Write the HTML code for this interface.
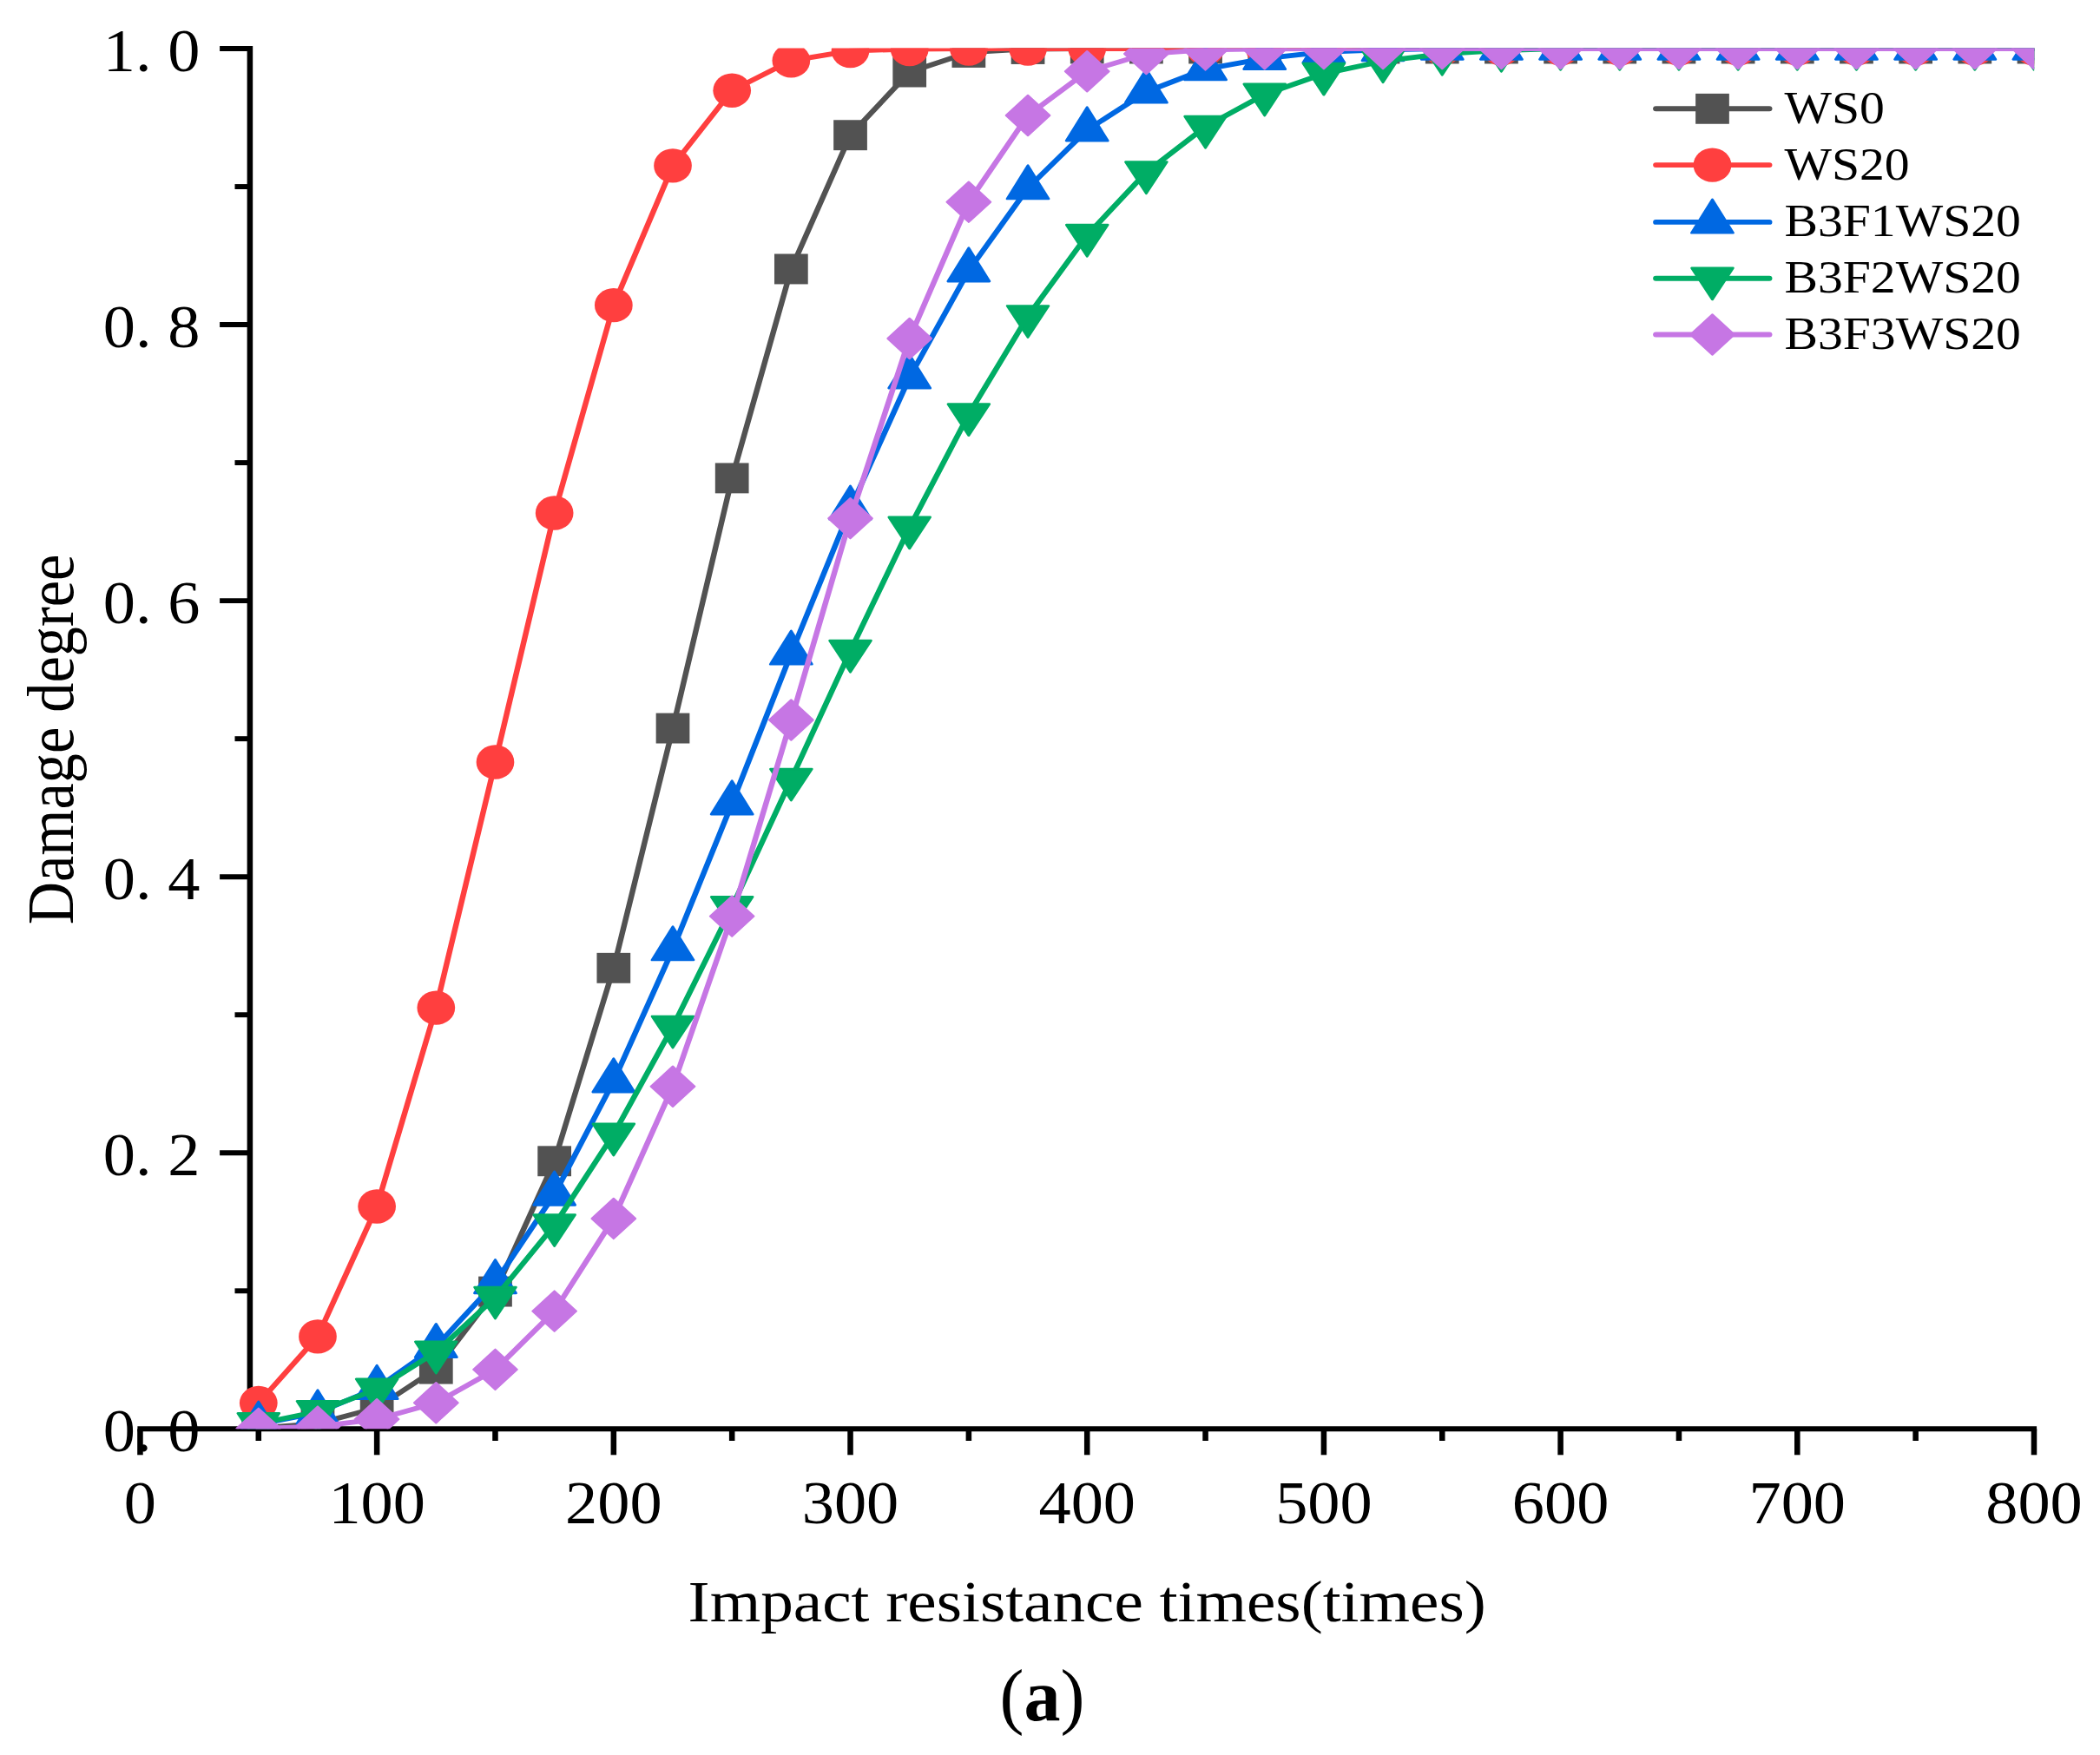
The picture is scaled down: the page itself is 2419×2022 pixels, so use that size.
<!DOCTYPE html>
<html lang="en"><head><meta charset="utf-8"><title>Damage degree vs impact resistance times</title>
<style>html,body{margin:0;padding:0;background:#fff}svg{display:block}text{font-family:"Liberation Serif","Times New Roman",serif;fill:#000}</style></head><body>
<svg width="2419" height="2022" viewBox="0 0 2419 2022">
<rect width="2419" height="2022" fill="#fff"/>
<g transform="scale(1.10963,1)">
<g stroke="#000" stroke-width="5.9" fill="none">
<line x1="259.46" y1="53.05" x2="259.46" y2="1646.3"/>
<line x1="142.75" y1="1646.3" x2="2114.3" y2="1646.3"/>
<line x1="243.77" y1="1487.27" x2="259.46" y2="1487.27"/>
<line x1="228.09" y1="1328.24" x2="259.46" y2="1328.24"/>
<line x1="243.77" y1="1169.21" x2="259.46" y2="1169.21"/>
<line x1="228.09" y1="1010.18" x2="259.46" y2="1010.18"/>
<line x1="243.77" y1="851.15" x2="259.46" y2="851.15"/>
<line x1="228.09" y1="692.12" x2="259.46" y2="692.12"/>
<line x1="243.77" y1="533.09" x2="259.46" y2="533.09"/>
<line x1="228.09" y1="374.06" x2="259.46" y2="374.06"/>
<line x1="243.77" y1="215.03" x2="259.46" y2="215.03"/>
<line x1="228.09" y1="56" x2="259.46" y2="56"/>
<line x1="145.5" y1="1646.3" x2="145.5" y2="1676.3"/>
<line x1="268.37" y1="1646.3" x2="268.37" y2="1660"/>
<line x1="391.25" y1="1646.3" x2="391.25" y2="1676.3"/>
<line x1="514.12" y1="1646.3" x2="514.12" y2="1660"/>
<line x1="637" y1="1646.3" x2="637" y2="1676.3"/>
<line x1="759.88" y1="1646.3" x2="759.88" y2="1660"/>
<line x1="882.75" y1="1646.3" x2="882.75" y2="1676.3"/>
<line x1="1005.63" y1="1646.3" x2="1005.63" y2="1660"/>
<line x1="1128.5" y1="1646.3" x2="1128.5" y2="1676.3"/>
<line x1="1251.38" y1="1646.3" x2="1251.38" y2="1660"/>
<line x1="1374.25" y1="1646.3" x2="1374.25" y2="1676.3"/>
<line x1="1497.13" y1="1646.3" x2="1497.13" y2="1660"/>
<line x1="1620" y1="1646.3" x2="1620" y2="1676.3"/>
<line x1="1742.88" y1="1646.3" x2="1742.88" y2="1660"/>
<line x1="1865.75" y1="1646.3" x2="1865.75" y2="1676.3"/>
<line x1="1988.63" y1="1646.3" x2="1988.63" y2="1660"/>
<line x1="2111.5" y1="1646.3" x2="2111.5" y2="1676.3"/>
</g>
<defs><clipPath id="pc"><rect x="135.18" y="55.5" width="1976.51" height="1590.8"/></clipPath></defs>
<g clip-path="url(#pc)">
<polyline points="268.37,1645.35 329.81,1640.1 391.25,1621.97 452.69,1577.12 514.12,1488.07 575.56,1337.78 637,1115.3 698.44,839.06 759.88,550.9 821.31,309.97 882.75,155.71 944.19,83.04 1005.63,60.45 1067.06,56.48 1128.5,56 1189.94,56 1251.38,56 1312.81,56 1374.25,56 1435.69,56 1497.13,56 1558.56,56 1620,56 1681.44,56 1742.88,56 1804.32,56 1865.75,56 1927.19,56 1988.63,56 2050.07,56 2111.5,56" fill="none" stroke="#525252" stroke-width="5.8" stroke-linejoin="round" stroke-linecap="round"/>
<rect x="250.92" y="1627.9" width="34.9" height="34.9" fill="#525252"/>
<rect x="312.36" y="1622.65" width="34.9" height="34.9" fill="#525252"/>
<rect x="373.8" y="1604.52" width="34.9" height="34.9" fill="#525252"/>
<rect x="435.24" y="1559.67" width="34.9" height="34.9" fill="#525252"/>
<rect x="496.67" y="1470.62" width="34.9" height="34.9" fill="#525252"/>
<rect x="558.11" y="1320.33" width="34.9" height="34.9" fill="#525252"/>
<rect x="619.55" y="1097.85" width="34.9" height="34.9" fill="#525252"/>
<rect x="680.99" y="821.61" width="34.9" height="34.9" fill="#525252"/>
<rect x="742.43" y="533.45" width="34.9" height="34.9" fill="#525252"/>
<rect x="803.86" y="292.52" width="34.9" height="34.9" fill="#525252"/>
<rect x="865.3" y="138.26" width="34.9" height="34.9" fill="#525252"/>
<rect x="926.74" y="65.59" width="34.9" height="34.9" fill="#525252"/>
<rect x="988.18" y="43" width="34.9" height="34.9" fill="#525252"/>
<rect x="1049.61" y="39.03" width="34.9" height="34.9" fill="#525252"/>
<rect x="1111.05" y="38.55" width="34.9" height="34.9" fill="#525252"/>
<rect x="1172.49" y="38.55" width="34.9" height="34.9" fill="#525252"/>
<rect x="1233.93" y="38.55" width="34.9" height="34.9" fill="#525252"/>
<rect x="1295.36" y="38.55" width="34.9" height="34.9" fill="#525252"/>
<rect x="1356.8" y="38.55" width="34.9" height="34.9" fill="#525252"/>
<rect x="1418.24" y="38.55" width="34.9" height="34.9" fill="#525252"/>
<rect x="1479.68" y="38.55" width="34.9" height="34.9" fill="#525252"/>
<rect x="1541.11" y="38.55" width="34.9" height="34.9" fill="#525252"/>
<rect x="1602.55" y="38.55" width="34.9" height="34.9" fill="#525252"/>
<rect x="1663.99" y="38.55" width="34.9" height="34.9" fill="#525252"/>
<rect x="1725.43" y="38.55" width="34.9" height="34.9" fill="#525252"/>
<rect x="1786.87" y="38.55" width="34.9" height="34.9" fill="#525252"/>
<rect x="1848.3" y="38.55" width="34.9" height="34.9" fill="#525252"/>
<rect x="1909.74" y="38.55" width="34.9" height="34.9" fill="#525252"/>
<rect x="1971.18" y="38.55" width="34.9" height="34.9" fill="#525252"/>
<rect x="2032.62" y="38.55" width="34.9" height="34.9" fill="#525252"/>
<rect x="2094.05" y="38.55" width="34.9" height="34.9" fill="#525252"/>
<polyline points="268.37,1616.56 329.81,1539.91 391.25,1389.94 452.69,1161.1 514.12,878.03 575.56,590.98 637,351.64 698.44,190.86 759.88,104.19 821.31,69.84 882.75,58.54 944.19,56.64 1005.63,56 1067.06,56 1128.5,56 1189.94,56 1251.38,56 1312.81,56 1374.25,56 1435.69,56 1497.13,56 1558.56,56 1620,56 1681.44,56 1742.88,56 1804.32,56 1865.75,56 1927.19,56 1988.63,56 2050.07,56 2111.5,56" fill="none" stroke="#ff3f3f" stroke-width="5.8" stroke-linejoin="round" stroke-linecap="round"/>
<circle cx="268.37" cy="1616.56" r="19.7" fill="#ff3f3f"/>
<circle cx="329.81" cy="1539.91" r="19.7" fill="#ff3f3f"/>
<circle cx="391.25" cy="1389.94" r="19.7" fill="#ff3f3f"/>
<circle cx="452.69" cy="1161.1" r="19.7" fill="#ff3f3f"/>
<circle cx="514.12" cy="878.03" r="19.7" fill="#ff3f3f"/>
<circle cx="575.56" cy="590.98" r="19.7" fill="#ff3f3f"/>
<circle cx="637" cy="351.64" r="19.7" fill="#ff3f3f"/>
<circle cx="698.44" cy="190.86" r="19.7" fill="#ff3f3f"/>
<circle cx="759.88" cy="104.19" r="19.7" fill="#ff3f3f"/>
<circle cx="821.31" cy="69.84" r="19.7" fill="#ff3f3f"/>
<circle cx="882.75" cy="58.54" r="19.7" fill="#ff3f3f"/>
<circle cx="944.19" cy="56.64" r="19.7" fill="#ff3f3f"/>
<circle cx="1005.63" cy="56" r="19.7" fill="#ff3f3f"/>
<circle cx="1067.06" cy="56" r="19.7" fill="#ff3f3f"/>
<circle cx="1128.5" cy="56" r="19.7" fill="#ff3f3f"/>
<circle cx="1189.94" cy="56" r="19.7" fill="#ff3f3f"/>
<circle cx="1251.38" cy="56" r="19.7" fill="#ff3f3f"/>
<circle cx="1312.81" cy="56" r="19.7" fill="#ff3f3f"/>
<circle cx="1374.25" cy="56" r="19.7" fill="#ff3f3f"/>
<circle cx="1435.69" cy="56" r="19.7" fill="#ff3f3f"/>
<circle cx="1497.13" cy="56" r="19.7" fill="#ff3f3f"/>
<circle cx="1558.56" cy="56" r="19.7" fill="#ff3f3f"/>
<circle cx="1620" cy="56" r="19.7" fill="#ff3f3f"/>
<circle cx="1681.44" cy="56" r="19.7" fill="#ff3f3f"/>
<circle cx="1742.88" cy="56" r="19.7" fill="#ff3f3f"/>
<circle cx="1804.32" cy="56" r="19.7" fill="#ff3f3f"/>
<circle cx="1865.75" cy="56" r="19.7" fill="#ff3f3f"/>
<circle cx="1927.19" cy="56" r="19.7" fill="#ff3f3f"/>
<circle cx="1988.63" cy="56" r="19.7" fill="#ff3f3f"/>
<circle cx="2050.07" cy="56" r="19.7" fill="#ff3f3f"/>
<circle cx="2111.5" cy="56" r="19.7" fill="#ff3f3f"/>
<polyline points="268.37,1640.89 329.81,1627.69 391.25,1599.23 452.69,1551.36 514.12,1477.57 575.56,1375.95 637,1245.7 698.44,1093.67 759.88,925.74 821.31,752.87 882.75,585.89 944.19,434.81 1005.63,311.72 1067.06,216.62 1128.5,149.83 1189.94,105.78 1251.38,79.54 1312.81,67.29 1374.25,59.82 1435.69,57.43 1497.13,56 1558.56,56 1620,56 1681.44,56 1742.88,56 1804.32,56 1865.75,56 1927.19,56 1988.63,56 2050.07,56 2111.5,56" fill="none" stroke="#0068e2" stroke-width="5.8" stroke-linejoin="round" stroke-linecap="round"/>
<polygon points="268.37,1614.79 246.76,1653.29 289.98,1653.29" fill="#0068e2" stroke="#0068e2" stroke-width="2.6" stroke-linejoin="round"/>
<polygon points="329.81,1601.59 308.2,1640.09 351.42,1640.09" fill="#0068e2" stroke="#0068e2" stroke-width="2.6" stroke-linejoin="round"/>
<polygon points="391.25,1573.13 369.64,1611.63 412.86,1611.63" fill="#0068e2" stroke="#0068e2" stroke-width="2.6" stroke-linejoin="round"/>
<polygon points="452.69,1525.26 431.08,1563.76 474.3,1563.76" fill="#0068e2" stroke="#0068e2" stroke-width="2.6" stroke-linejoin="round"/>
<polygon points="514.12,1451.47 492.51,1489.97 535.74,1489.97" fill="#0068e2" stroke="#0068e2" stroke-width="2.6" stroke-linejoin="round"/>
<polygon points="575.56,1349.85 553.95,1388.35 597.17,1388.35" fill="#0068e2" stroke="#0068e2" stroke-width="2.6" stroke-linejoin="round"/>
<polygon points="637,1219.6 615.39,1258.1 658.61,1258.1" fill="#0068e2" stroke="#0068e2" stroke-width="2.6" stroke-linejoin="round"/>
<polygon points="698.44,1067.57 676.83,1106.07 720.05,1106.07" fill="#0068e2" stroke="#0068e2" stroke-width="2.6" stroke-linejoin="round"/>
<polygon points="759.88,899.64 738.26,938.14 781.49,938.14" fill="#0068e2" stroke="#0068e2" stroke-width="2.6" stroke-linejoin="round"/>
<polygon points="821.31,726.77 799.7,765.27 842.92,765.27" fill="#0068e2" stroke="#0068e2" stroke-width="2.6" stroke-linejoin="round"/>
<polygon points="882.75,559.79 861.14,598.29 904.36,598.29" fill="#0068e2" stroke="#0068e2" stroke-width="2.6" stroke-linejoin="round"/>
<polygon points="944.19,408.71 922.58,447.21 965.8,447.21" fill="#0068e2" stroke="#0068e2" stroke-width="2.6" stroke-linejoin="round"/>
<polygon points="1005.63,285.62 984.01,324.12 1027.24,324.12" fill="#0068e2" stroke="#0068e2" stroke-width="2.6" stroke-linejoin="round"/>
<polygon points="1067.06,190.52 1045.45,229.02 1088.67,229.02" fill="#0068e2" stroke="#0068e2" stroke-width="2.6" stroke-linejoin="round"/>
<polygon points="1128.5,123.73 1106.89,162.23 1150.11,162.23" fill="#0068e2" stroke="#0068e2" stroke-width="2.6" stroke-linejoin="round"/>
<polygon points="1189.94,79.68 1168.33,118.18 1211.55,118.18" fill="#0068e2" stroke="#0068e2" stroke-width="2.6" stroke-linejoin="round"/>
<polygon points="1251.38,53.44 1229.77,91.94 1272.99,91.94" fill="#0068e2" stroke="#0068e2" stroke-width="2.6" stroke-linejoin="round"/>
<polygon points="1312.81,41.19 1291.2,79.69 1334.42,79.69" fill="#0068e2" stroke="#0068e2" stroke-width="2.6" stroke-linejoin="round"/>
<polygon points="1374.25,33.72 1352.64,72.22 1395.86,72.22" fill="#0068e2" stroke="#0068e2" stroke-width="2.6" stroke-linejoin="round"/>
<polygon points="1435.69,31.33 1414.08,69.83 1457.3,69.83" fill="#0068e2" stroke="#0068e2" stroke-width="2.6" stroke-linejoin="round"/>
<polygon points="1497.13,29.9 1475.52,68.4 1518.74,68.4" fill="#0068e2" stroke="#0068e2" stroke-width="2.6" stroke-linejoin="round"/>
<polygon points="1558.56,29.9 1536.95,68.4 1580.18,68.4" fill="#0068e2" stroke="#0068e2" stroke-width="2.6" stroke-linejoin="round"/>
<polygon points="1620,29.9 1598.39,68.4 1641.61,68.4" fill="#0068e2" stroke="#0068e2" stroke-width="2.6" stroke-linejoin="round"/>
<polygon points="1681.44,29.9 1659.83,68.4 1703.05,68.4" fill="#0068e2" stroke="#0068e2" stroke-width="2.6" stroke-linejoin="round"/>
<polygon points="1742.88,29.9 1721.27,68.4 1764.49,68.4" fill="#0068e2" stroke="#0068e2" stroke-width="2.6" stroke-linejoin="round"/>
<polygon points="1804.32,29.9 1782.7,68.4 1825.93,68.4" fill="#0068e2" stroke="#0068e2" stroke-width="2.6" stroke-linejoin="round"/>
<polygon points="1865.75,29.9 1844.14,68.4 1887.36,68.4" fill="#0068e2" stroke="#0068e2" stroke-width="2.6" stroke-linejoin="round"/>
<polygon points="1927.19,29.9 1905.58,68.4 1948.8,68.4" fill="#0068e2" stroke="#0068e2" stroke-width="2.6" stroke-linejoin="round"/>
<polygon points="1988.63,29.9 1967.02,68.4 2010.24,68.4" fill="#0068e2" stroke="#0068e2" stroke-width="2.6" stroke-linejoin="round"/>
<polygon points="2050.07,29.9 2028.45,68.4 2071.68,68.4" fill="#0068e2" stroke="#0068e2" stroke-width="2.6" stroke-linejoin="round"/>
<polygon points="2111.5,29.9 2089.89,68.4 2133.11,68.4" fill="#0068e2" stroke="#0068e2" stroke-width="2.6" stroke-linejoin="round"/>
<polyline points="268.37,1640.26 329.81,1626.26 391.25,1600.66 452.69,1557.72 514.12,1494.9 575.56,1411.41 637,1306.77 698.44,1182.89 759.88,1045.17 821.31,897.9 882.75,750.01 944.19,607.68 1005.63,477.43 1067.06,364.36 1128.5,271.01 1189.94,198.49 1251.38,146.01 1312.81,108.8 1374.25,84.94 1435.69,70.47 1497.13,62.04 1558.56,58.07 1620,56.16 1681.44,56 1742.88,56 1804.32,56 1865.75,56 1927.19,56 1988.63,56 2050.07,56 2111.5,56" fill="none" stroke="#00ad65" stroke-width="5.8" stroke-linejoin="round" stroke-linecap="round"/>
<polygon points="268.37,1664.56 246.89,1628.36 289.86,1628.36" fill="#00ad65" stroke="#00ad65" stroke-width="2.6" stroke-linejoin="round"/>
<polygon points="329.81,1650.56 308.33,1614.36 351.3,1614.36" fill="#00ad65" stroke="#00ad65" stroke-width="2.6" stroke-linejoin="round"/>
<polygon points="391.25,1624.96 369.76,1588.76 412.73,1588.76" fill="#00ad65" stroke="#00ad65" stroke-width="2.6" stroke-linejoin="round"/>
<polygon points="452.69,1582.02 431.2,1545.82 474.17,1545.82" fill="#00ad65" stroke="#00ad65" stroke-width="2.6" stroke-linejoin="round"/>
<polygon points="514.12,1519.2 492.64,1483 535.61,1483" fill="#00ad65" stroke="#00ad65" stroke-width="2.6" stroke-linejoin="round"/>
<polygon points="575.56,1435.71 554.08,1399.51 597.05,1399.51" fill="#00ad65" stroke="#00ad65" stroke-width="2.6" stroke-linejoin="round"/>
<polygon points="637,1331.07 615.51,1294.87 658.49,1294.87" fill="#00ad65" stroke="#00ad65" stroke-width="2.6" stroke-linejoin="round"/>
<polygon points="698.44,1207.19 676.95,1170.99 719.92,1170.99" fill="#00ad65" stroke="#00ad65" stroke-width="2.6" stroke-linejoin="round"/>
<polygon points="759.88,1069.47 738.39,1033.27 781.36,1033.27" fill="#00ad65" stroke="#00ad65" stroke-width="2.6" stroke-linejoin="round"/>
<polygon points="821.31,922.2 799.83,886 842.8,886" fill="#00ad65" stroke="#00ad65" stroke-width="2.6" stroke-linejoin="round"/>
<polygon points="882.75,774.31 861.27,738.11 904.24,738.11" fill="#00ad65" stroke="#00ad65" stroke-width="2.6" stroke-linejoin="round"/>
<polygon points="944.19,631.98 922.7,595.78 965.67,595.78" fill="#00ad65" stroke="#00ad65" stroke-width="2.6" stroke-linejoin="round"/>
<polygon points="1005.63,501.73 984.14,465.53 1027.11,465.53" fill="#00ad65" stroke="#00ad65" stroke-width="2.6" stroke-linejoin="round"/>
<polygon points="1067.06,388.66 1045.58,352.46 1088.55,352.46" fill="#00ad65" stroke="#00ad65" stroke-width="2.6" stroke-linejoin="round"/>
<polygon points="1128.5,295.31 1107.02,259.11 1149.99,259.11" fill="#00ad65" stroke="#00ad65" stroke-width="2.6" stroke-linejoin="round"/>
<polygon points="1189.94,222.79 1168.45,186.59 1211.42,186.59" fill="#00ad65" stroke="#00ad65" stroke-width="2.6" stroke-linejoin="round"/>
<polygon points="1251.38,170.31 1229.89,134.11 1272.86,134.11" fill="#00ad65" stroke="#00ad65" stroke-width="2.6" stroke-linejoin="round"/>
<polygon points="1312.81,133.1 1291.33,96.9 1334.3,96.9" fill="#00ad65" stroke="#00ad65" stroke-width="2.6" stroke-linejoin="round"/>
<polygon points="1374.25,109.24 1352.77,73.04 1395.74,73.04" fill="#00ad65" stroke="#00ad65" stroke-width="2.6" stroke-linejoin="round"/>
<polygon points="1435.69,94.77 1414.2,58.57 1457.17,58.57" fill="#00ad65" stroke="#00ad65" stroke-width="2.6" stroke-linejoin="round"/>
<polygon points="1497.13,86.34 1475.64,50.14 1518.61,50.14" fill="#00ad65" stroke="#00ad65" stroke-width="2.6" stroke-linejoin="round"/>
<polygon points="1558.56,82.37 1537.08,46.17 1580.05,46.17" fill="#00ad65" stroke="#00ad65" stroke-width="2.6" stroke-linejoin="round"/>
<polygon points="1620,80.46 1598.52,44.26 1641.49,44.26" fill="#00ad65" stroke="#00ad65" stroke-width="2.6" stroke-linejoin="round"/>
<polygon points="1681.44,80.3 1659.95,44.1 1702.93,44.1" fill="#00ad65" stroke="#00ad65" stroke-width="2.6" stroke-linejoin="round"/>
<polygon points="1742.88,80.3 1721.39,44.1 1764.36,44.1" fill="#00ad65" stroke="#00ad65" stroke-width="2.6" stroke-linejoin="round"/>
<polygon points="1804.32,80.3 1782.83,44.1 1825.8,44.1" fill="#00ad65" stroke="#00ad65" stroke-width="2.6" stroke-linejoin="round"/>
<polygon points="1865.75,80.3 1844.27,44.1 1887.24,44.1" fill="#00ad65" stroke="#00ad65" stroke-width="2.6" stroke-linejoin="round"/>
<polygon points="1927.19,80.3 1905.71,44.1 1948.68,44.1" fill="#00ad65" stroke="#00ad65" stroke-width="2.6" stroke-linejoin="round"/>
<polygon points="1988.63,80.3 1967.14,44.1 2010.11,44.1" fill="#00ad65" stroke="#00ad65" stroke-width="2.6" stroke-linejoin="round"/>
<polygon points="2050.07,80.3 2028.58,44.1 2071.55,44.1" fill="#00ad65" stroke="#00ad65" stroke-width="2.6" stroke-linejoin="round"/>
<polygon points="2111.5,80.3 2090.02,44.1 2132.99,44.1" fill="#00ad65" stroke="#00ad65" stroke-width="2.6" stroke-linejoin="round"/>
<polyline points="268.37,1645.82 329.81,1643.6 391.25,1635.17 452.69,1616.24 514.12,1577.92 575.56,1510.65 637,1403.94 698.44,1251.75 759.88,1055.66 821.31,829.52 882.75,597.18 944.19,389.96 1005.63,232.68 1067.06,132.97 1128.5,82.24 1189.94,62.04 1251.38,57.43 1312.81,56.32 1374.25,56 1435.69,56 1497.13,56 1558.56,56 1620,56 1681.44,56 1742.88,56 1804.32,56 1865.75,56 1927.19,56 1988.63,56 2050.07,56 2111.5,56" fill="none" stroke="#c676e4" stroke-width="5.8" stroke-linejoin="round" stroke-linecap="round"/>
<polygon points="268.37,1622.59 291.14,1645.82 268.37,1669.06 245.61,1645.82" fill="#c676e4" stroke="#c676e4" stroke-width="2.0" stroke-linejoin="round"/>
<polygon points="329.81,1620.36 352.58,1643.6 329.81,1666.83 307.05,1643.6" fill="#c676e4" stroke="#c676e4" stroke-width="2.0" stroke-linejoin="round"/>
<polygon points="391.25,1611.93 414.01,1635.17 391.25,1658.4 368.48,1635.17" fill="#c676e4" stroke="#c676e4" stroke-width="2.0" stroke-linejoin="round"/>
<polygon points="452.69,1593.01 475.45,1616.24 452.69,1639.48 429.92,1616.24" fill="#c676e4" stroke="#c676e4" stroke-width="2.0" stroke-linejoin="round"/>
<polygon points="514.12,1554.68 536.89,1577.92 514.12,1601.15 491.36,1577.92" fill="#c676e4" stroke="#c676e4" stroke-width="2.0" stroke-linejoin="round"/>
<polygon points="575.56,1487.41 598.33,1510.65 575.56,1533.88 552.8,1510.65" fill="#c676e4" stroke="#c676e4" stroke-width="2.0" stroke-linejoin="round"/>
<polygon points="637,1380.7 659.76,1403.94 637,1427.17 614.24,1403.94" fill="#c676e4" stroke="#c676e4" stroke-width="2.0" stroke-linejoin="round"/>
<polygon points="698.44,1228.51 721.2,1251.75 698.44,1274.98 675.67,1251.75" fill="#c676e4" stroke="#c676e4" stroke-width="2.0" stroke-linejoin="round"/>
<polygon points="759.88,1032.43 782.64,1055.66 759.88,1078.9 737.11,1055.66" fill="#c676e4" stroke="#c676e4" stroke-width="2.0" stroke-linejoin="round"/>
<polygon points="821.31,806.29 844.08,829.52 821.31,852.76 798.55,829.52" fill="#c676e4" stroke="#c676e4" stroke-width="2.0" stroke-linejoin="round"/>
<polygon points="882.75,573.94 905.51,597.18 882.75,620.41 859.99,597.18" fill="#c676e4" stroke="#c676e4" stroke-width="2.0" stroke-linejoin="round"/>
<polygon points="944.19,366.73 966.95,389.96 944.19,413.2 921.42,389.96" fill="#c676e4" stroke="#c676e4" stroke-width="2.0" stroke-linejoin="round"/>
<polygon points="1005.63,209.45 1028.39,232.68 1005.63,255.92 982.86,232.68" fill="#c676e4" stroke="#c676e4" stroke-width="2.0" stroke-linejoin="round"/>
<polygon points="1067.06,109.73 1089.83,132.97 1067.06,156.21 1044.3,132.97" fill="#c676e4" stroke="#c676e4" stroke-width="2.0" stroke-linejoin="round"/>
<polygon points="1128.5,59 1151.27,82.24 1128.5,105.48 1105.74,82.24" fill="#c676e4" stroke="#c676e4" stroke-width="2.0" stroke-linejoin="round"/>
<polygon points="1189.94,38.81 1212.7,62.04 1189.94,85.28 1167.17,62.04" fill="#c676e4" stroke="#c676e4" stroke-width="2.0" stroke-linejoin="round"/>
<polygon points="1251.38,34.2 1274.14,57.43 1251.38,80.67 1228.61,57.43" fill="#c676e4" stroke="#c676e4" stroke-width="2.0" stroke-linejoin="round"/>
<polygon points="1312.81,33.08 1335.58,56.32 1312.81,79.55 1290.05,56.32" fill="#c676e4" stroke="#c676e4" stroke-width="2.0" stroke-linejoin="round"/>
<polygon points="1374.25,32.76 1397.02,56 1374.25,79.24 1351.49,56" fill="#c676e4" stroke="#c676e4" stroke-width="2.0" stroke-linejoin="round"/>
<polygon points="1435.69,32.76 1458.45,56 1435.69,79.24 1412.92,56" fill="#c676e4" stroke="#c676e4" stroke-width="2.0" stroke-linejoin="round"/>
<polygon points="1497.13,32.76 1519.89,56 1497.13,79.24 1474.36,56" fill="#c676e4" stroke="#c676e4" stroke-width="2.0" stroke-linejoin="round"/>
<polygon points="1558.56,32.76 1581.33,56 1558.56,79.24 1535.8,56" fill="#c676e4" stroke="#c676e4" stroke-width="2.0" stroke-linejoin="round"/>
<polygon points="1620,32.76 1642.77,56 1620,79.24 1597.24,56" fill="#c676e4" stroke="#c676e4" stroke-width="2.0" stroke-linejoin="round"/>
<polygon points="1681.44,32.76 1704.2,56 1681.44,79.24 1658.68,56" fill="#c676e4" stroke="#c676e4" stroke-width="2.0" stroke-linejoin="round"/>
<polygon points="1742.88,32.76 1765.64,56 1742.88,79.24 1720.11,56" fill="#c676e4" stroke="#c676e4" stroke-width="2.0" stroke-linejoin="round"/>
<polygon points="1804.32,32.76 1827.08,56 1804.32,79.24 1781.55,56" fill="#c676e4" stroke="#c676e4" stroke-width="2.0" stroke-linejoin="round"/>
<polygon points="1865.75,32.76 1888.52,56 1865.75,79.24 1842.99,56" fill="#c676e4" stroke="#c676e4" stroke-width="2.0" stroke-linejoin="round"/>
<polygon points="1927.19,32.76 1949.96,56 1927.19,79.24 1904.43,56" fill="#c676e4" stroke="#c676e4" stroke-width="2.0" stroke-linejoin="round"/>
<polygon points="1988.63,32.76 2011.39,56 1988.63,79.24 1965.86,56" fill="#c676e4" stroke="#c676e4" stroke-width="2.0" stroke-linejoin="round"/>
<polygon points="2050.07,32.76 2072.83,56 2050.07,79.24 2027.3,56" fill="#c676e4" stroke="#c676e4" stroke-width="2.0" stroke-linejoin="round"/>
<polygon points="2111.5,32.76 2134.27,56 2111.5,79.24 2088.74,56" fill="#c676e4" stroke="#c676e4" stroke-width="2.0" stroke-linejoin="round"/>
</g>
<line x1="1718.95" y1="125.3" x2="1836.82" y2="125.3" stroke="#525252" stroke-width="5.9" stroke-linecap="round"/>
<rect x="1760.16" y="107.85" width="34.9" height="34.9" fill="#525252"/>
<text x="1852.41" y="141.9" font-size="52">WS0</text>
<line x1="1718.95" y1="190.1" x2="1836.82" y2="190.1" stroke="#ff3f3f" stroke-width="5.9" stroke-linecap="round"/>
<circle cx="1777.61" cy="190.1" r="19.7" fill="#ff3f3f"/>
<text x="1852.41" y="206.7" font-size="52">WS20</text>
<line x1="1718.95" y1="255.9" x2="1836.82" y2="255.9" stroke="#0068e2" stroke-width="5.9" stroke-linecap="round"/>
<polygon points="1777.61,229.8 1756,268.3 1799.23,268.3" fill="#0068e2" stroke="#0068e2" stroke-width="2.6" stroke-linejoin="round"/>
<text x="1852.41" y="272.5" font-size="52">B3F1WS20</text>
<line x1="1718.95" y1="320.7" x2="1836.82" y2="320.7" stroke="#00ad65" stroke-width="5.9" stroke-linecap="round"/>
<polygon points="1777.61,345 1756.13,308.8 1799.1,308.8" fill="#00ad65" stroke="#00ad65" stroke-width="2.6" stroke-linejoin="round"/>
<text x="1852.41" y="337.3" font-size="52">B3F2WS20</text>
<line x1="1718.95" y1="385.5" x2="1836.82" y2="385.5" stroke="#c676e4" stroke-width="5.9" stroke-linecap="round"/>
<polygon points="1777.61,362.26 1800.38,385.5 1777.61,408.74 1754.85,385.5" fill="#c676e4" stroke="#c676e4" stroke-width="2.0" stroke-linejoin="round"/>
<text x="1852.41" y="402.1" font-size="52">B3F3WS20</text>
<text transform="translate(107.06,1672.4) scale(0.9753,1)" font-size="68.7" xml:space="preserve">0. 0</text>
<text transform="translate(107.06,1354.34) scale(0.9753,1)" font-size="68.7" xml:space="preserve">0. 2</text>
<text transform="translate(107.06,1036.28) scale(0.9753,1)" font-size="68.7" xml:space="preserve">0. 4</text>
<text transform="translate(107.06,718.22) scale(0.9753,1)" font-size="68.7" xml:space="preserve">0. 6</text>
<text transform="translate(107.06,400.16) scale(0.9753,1)" font-size="68.7" xml:space="preserve">0. 8</text>
<text transform="translate(107.06,82.1) scale(0.9753,1)" font-size="68.7" xml:space="preserve">1. 0</text>
<text transform="translate(145.5,1754.8) scale(0.9753,1)" font-size="68.7" text-anchor="middle">0</text>
<text transform="translate(391.25,1754.8) scale(0.9753,1)" font-size="68.7" text-anchor="middle">100</text>
<text transform="translate(637,1754.8) scale(0.9753,1)" font-size="68.7" text-anchor="middle">200</text>
<text transform="translate(882.75,1754.8) scale(0.9753,1)" font-size="68.7" text-anchor="middle">300</text>
<text transform="translate(1128.5,1754.8) scale(0.9753,1)" font-size="68.7" text-anchor="middle">400</text>
<text transform="translate(1374.25,1754.8) scale(0.9753,1)" font-size="68.7" text-anchor="middle">500</text>
<text transform="translate(1620,1754.8) scale(0.9753,1)" font-size="68.7" text-anchor="middle">600</text>
<text transform="translate(1865.75,1754.8) scale(0.9753,1)" font-size="68.7" text-anchor="middle">700</text>
<text transform="translate(2111.5,1754.8) scale(0.9753,1)" font-size="68.7" text-anchor="middle">800</text>
<text x="1128.48" y="1868" font-size="67.8" text-anchor="middle">Impact resistance times(times)</text>
<text transform="translate(75.7,852) rotate(-90)" font-size="68.3" text-anchor="middle">Damage degree</text>
</g>
<text x="1200.5" y="1981.5" font-size="84" text-anchor="middle">(<tspan font-weight="bold">a</tspan>)</text>
</svg></body></html>
